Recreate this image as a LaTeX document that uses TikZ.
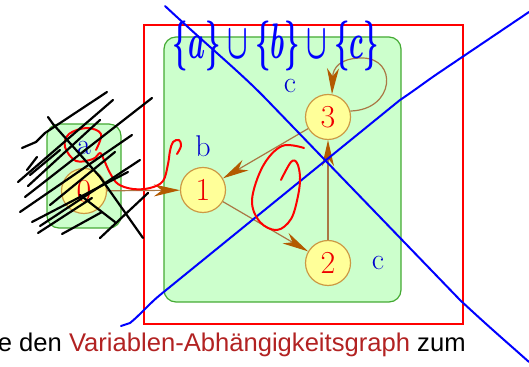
\documentclass[tikz,border=0pt]{standalone}
\usepackage{fontspec}
\newfontfamily\sansf{Liberation Sans}
\usetikzlibrary{arrows.meta}
\definecolor{gfill}{HTML}{CCFFCC}
\definecolor{gline}{HTML}{44AA33}
\definecolor{nfill}{HTML}{FFFF99}
\definecolor{nline}{HTML}{CC9944}
\definecolor{aline}{HTML}{AA7744}
\definecolor{ahead}{HTML}{B35A00}
\definecolor{lblue}{HTML}{0000CC}
\definecolor{nred}{HTML}{EE0000}
\definecolor{txtred}{HTML}{B22222}
\definecolor{pen}{HTML}{0000FF}
\definecolor{rpen}{HTML}{FF0000}
\begin{document}
\begin{tikzpicture}[x=0.5pt,y=-0.5pt,
  gbox/.style={draw=gline, fill=gfill, line width=0.6pt, rounded corners=6pt},
  state/.style={circle, draw=nline, fill=nfill, line width=0.6pt, minimum size=22.5pt, inner sep=0pt, text=nred, font=\fontsize{16}{16}\selectfont},
  lbl/.style={text=lblue, inner sep=0pt, font=\fontsize{15}{15}\selectfont},
  arr/.style={draw=aline, line width=0.6pt, -{Stealth[length=13pt,width=6pt,inset=4pt,color=ahead,fill=ahead]}},
  bpen/.style={draw=pen, line width=1pt, line cap=round, line join=round},
  rscrib/.style={draw=rpen, line width=1pt, line cap=round, line join=round},
  kscrib/.style={draw=black, line width=1.1pt, line cap=round, line join=round}]
\useasboundingbox (0,0) rectangle (529,367);
\clip (0,0) rectangle (529,367);
% frames
\draw[red, line width=1.3pt] (144,25) rectangle (463,324);
\draw[gbox] (164,37) rectangle (401,302);
\draw[gbox] (47,124) rectangle (121,228);
% nodes
\node[state] (n0) at (84,191) {0};
\node[state] (n1) at (203,190) {1};
\node[state] (n2) at (328,263) {2};
\node[state] (n3) at (328,117) {3};
\node[lbl] (la) at (84,148) {a};
\node[lbl] (lb) at (203,146) {b};
\node[lbl] (lc3) at (290,86) {c};
\node[lbl] (lc2) at (378,263) {c};
% arrows
\draw[arr] (n0) -- (n1);
\draw[arr] (n3) -- (n1);
\draw[arr] (n1) -- (n2);
\draw[arr] (n2) -- (n3);
\draw[arr] (n3.15) .. controls (395,110) and (398,58) .. (362,58) .. controls (340,58) and (333,68) .. (n3.80);
% handwriting
\node[text=pen, inner sep=0pt] (hw) at (276,46) {\resizebox*{103pt}{25pt}{\boldmath$\{a\}\cup\{b\}\cup\{c\}$}};
% blue cross lines
\draw[bpen] (165,6) .. controls (210,48) and (240,72) .. (267,100) -- (460,300) .. controls (490,328) and (510,345) .. (529,362);
\draw[bpen] (121,326) -- (130,323) .. controls (140,315) and (150,303) .. (160,295) -- (400,100) .. controls (415,90) and (428,80) .. (440,72) -- (529,12);
% red scribbles
\draw[rscrib] plot[smooth, tension=0.6] coordinates {(96,150) (101,134) (87,128) (69,134) (65,147) (76,161) (93,159) (100,153) (104,160) (110,173) (118,184) (133,189) (150,188) (163,181) (168,164) (170,151) (173,142) (179,140) (181,146) (177,154)};
\draw[rscrib] plot[smooth, tension=0.6] coordinates {(304,148) (282,146) (263,166) (252,200) (260,222) (277,230) (291,219) (298,196) (300,177) (297,163) (291,162) (281,180)};
% black scribbles
\draw[kscrib] (107,92) -- (45,133) -- (36,142) -- (22,148);
\draw[kscrib] (113,100) -- (18,182);
\draw[kscrib] (152,98) -- (25,197);
\draw[kscrib] (132,135) -- (20,212);
\draw[kscrib] (128,172) -- (32,222);
\draw[kscrib] (148,193) -- (100,238);
\draw[kscrib] (92,198) -- (38,233);
\draw[kscrib] (102,212) -- (62,234);
\draw[kscrib] (48,117) -- (53,124) -- (100,177) -- (143,238);
\draw[kscrib] (27,170) -- (37,157);
\draw[kscrib] (60,150) -- (30,175);
\draw[kscrib] (115,152) -- (50,205);
\draw[kscrib] (100,120) -- (28,186);
\draw[kscrib] (140,160) -- (40,226);
\draw[kscrib] (80,195) -- (115,222);
% bottom text
\node[anchor=base east, inner sep=0pt, font=\sansf\fontsize{12.8}{13}\selectfont] (txt) at (466,352) {e den \textcolor{txtred}{Variablen-Abhängigkeitsgraph} zum};
\end{tikzpicture}
\end{document}
